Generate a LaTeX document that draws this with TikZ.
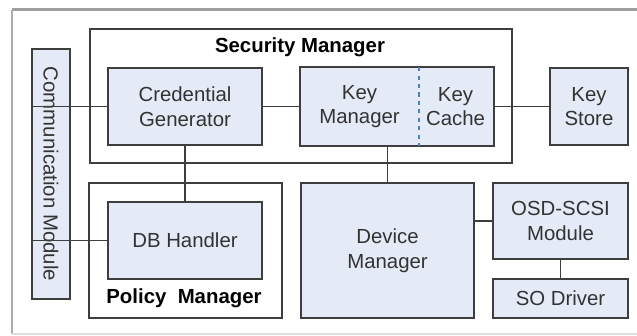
\documentclass[tikz,border=0pt]{standalone}
\usepackage{fontspec}
\setmainfont{Liberation Sans}
\usepackage{tikz}
\usetikzlibrary{calc,positioning}
\definecolor{boxfill}{RGB}{228,234,246}
\definecolor{boxline}{RGB}{62,62,62}
\definecolor{dashblue}{RGB}{80,125,200}
\tikzset{>=latex}
\tikzstyle{block}=[rectangle,draw=boxline,fill=boxfill,line width=1.3pt,align=center,text=black!80,inner sep=0pt]
\tikzstyle{group}=[rectangle,draw=boxline,line width=1.3pt,inner sep=0pt]
\tikzstyle{link}=[draw=boxline,line width=1.3pt]

\begin{document}
\begin{tikzpicture}[font=\fontsize{14.5}{17.5}\selectfont]
	\useasboundingbox (0,0) rectangle (15.925,8.4);

	% screenshot frame
	\draw[gray!75, line width=2pt] (0.3,8.16) -- (15.925,8.16);
	\draw[gray!65, line width=1.3pt] (0.3,8.16) -- (0.3,0.05);
	\draw[gray!25, line width=1pt] (0.3,0.05) -- (15.925,0.05);

	\node[group, minimum width=10.55cm, minimum height=3.35cm] (secmgr) at (7.525,6.0) {};
	\node[group, minimum width=4.825cm, minimum height=3.375cm] (polmgr) at (4.6375,2.1375) {};
	\node[font=\fontsize{14.5}{17.5}\selectfont\bfseries] (seclab) at (7.5,7.225) {Security Manager};
	\node[font=\fontsize{14.5}{17.5}\selectfont\bfseries] (pollab) at (4.6,0.95) {Policy~~Manager};

	\node[block, rotate=-90, minimum width=6.25cm, minimum height=0.95cm] (comm) at (1.275,4.05) {Communication Module};
	\node[block, minimum width=3.85cm, minimum height=1.925cm] (credgen) at (4.625,5.7375) {Credential\\Generator};
	\node[block, draw=none, minimum width=2.925cm, minimum height=1.925cm] (keymgr) at (8.9875,5.7375) {Key\\Manager};
	\node[block, draw=none, minimum width=1.875cm, minimum height=1.925cm] (keycache) at (11.3875,5.7375) {Key\\Cache};
	\node[block, minimum width=1.95cm, minimum height=1.925cm] (keystore) at (14.725,5.7375) {Key\\Store};
	\node[block, minimum width=3.85cm, minimum height=1.925cm] (dbh) at (4.625,2.3875) {DB Handler};
	\node[block, minimum width=4.325cm, minimum height=3.375cm] (devmgr) at (9.6875,2.1375) {Device\\Manager};
	\node[block, minimum width=3.375cm, minimum height=1.9cm] (osd) at (14.0125,2.875) {OSD-SCSI\\Module};
	\node[block, minimum width=3.375cm, minimum height=0.975cm] (sodrv) at (14.0125,0.9375) {SO Driver};

	\draw[boxline, line width=1.3pt] (keymgr.north west) rectangle (keycache.south east);
	\draw[dashblue, line width=1pt, dashed] (keymgr.north east) -- (keymgr.south east);

	\draw[link] (credgen.west) -- (credgen.west -| comm.south);
	\draw[link] (dbh.west) -- (dbh.west -| comm.south);
	\draw[link] (credgen) -- (keymgr);
	\draw[link] (keycache) -- (keystore);
	\draw[link] (credgen) -- (dbh);
	\draw[link] (devmgr.north) -- (devmgr.north |- keymgr.south);
	\draw[link] (osd.west) -- (osd.west -| devmgr.east);
	\draw[link] (osd) -- (sodrv);

\end{tikzpicture}
\end{document}
